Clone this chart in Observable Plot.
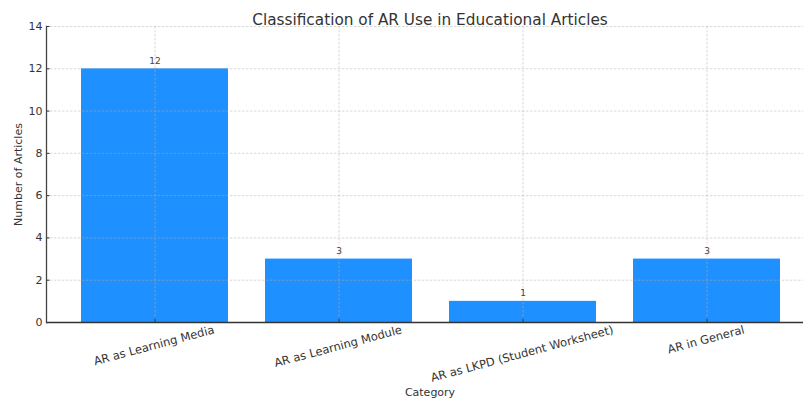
<!DOCTYPE html>
<html><head><meta charset="utf-8">
<script src="https://cdn.jsdelivr.net/npm/d3@7"></script>
<script src="https://cdn.jsdelivr.net/npm/@observablehq/plot@0.6"></script>
<style>body{margin:0;background:#fff} svg{display:block}</style>
</head><body><div id="chart"></div>
<script>
const categories = ["AR as Learning Media", "AR as Learning Module", "AR as LKPD (Student Worksheet)", "AR in General"];
const counts = [12, 3, 1, 3];
const yTicks = [0, 2, 4, 6, 8, 10, 12, 14];
const titleText = "Classification of AR Use in Educational Articles";
const xLabel = "Category";
const yLabel = "Number of Articles";

const data = categories.map((c, i) => ({category: c, count: counts[i]}));
const FONT = "DejaVu Sans";
const W = 803, H = 402;
const mL = 46, mR = 0, mT = 26, mB = 80;
const tickFont = 11.5;

// measure label widths to place rotated labels like matplotlib (top of rotated bbox under tick)
const ctx = document.createElement("canvas").getContext("2d");
ctx.font = `${tickFont}px "${FONT}"`;
const s = Math.sin(15 * Math.PI / 180), c = Math.cos(15 * Math.PI / 180);
const labelDy = categories.map(t => 5 + (ctx.measureText(t).width * s + tickFont * c) / 2);

const gridStyle = {stroke: "#b0b0b0", strokeOpacity: 0.7, strokeWidth: 0.7, strokeDasharray: "2.5,1.5"};

const chart = Plot.plot({
  width: W, height: H,
  marginLeft: mL, marginRight: mR, marginTop: mT, marginBottom: mB,
  style: {fontFamily: FONT, color: "#333", background: "#fff"},
  x: {domain: categories, range: [62.6, 798.6], paddingInner: 0.2, paddingOuter: 0.1, axis: null},
  y: {domain: [0, 14], axis: null},
  marks: [
    Plot.barY(data, {x: "category", y: "count", fill: "#1E90FF"}),
    Plot.ruleY(yTicks, gridStyle),
    Plot.ruleX(categories, {x: d => d, ...gridStyle}),
    Plot.axisY({ticks: yTicks, tickSize: 0, tickPadding: 4, fontSize: 11, label: null}),
    Plot.axisY({ticks: yTicks, tickSize: -3.5, tickFormat: () => "", label: null, stroke: "#333"}),
    Plot.axisX({tickSize: -3.5, tickFormat: () => "", label: null, stroke: "#333"}),
    Plot.ruleY([0], {stroke: "#333", strokeWidth: 1.3}),
    Plot.frame({anchor: "left", stroke: "#444", strokeWidth: 1.3}),
    Plot.text(data, {x: "category", y: "count", text: d => String(d.count), dy: -8, fontSize: 9, fill: "#444"}),
    ...categories.map((cat, i) => Plot.text([cat], {x: d => d, frameAnchor: "bottom", dy: labelDy[i], rotate: -15, fontSize: tickFont, fill: "#333"})),
    Plot.text([titleText], {frameAnchor: "top", dx: 5, dy: -12, fontSize: 15.3, fill: "#333"}),
    Plot.text([xLabel], {frameAnchor: "bottom", dx: 5, dy: 73, fontSize: 11, fill: "#333"}),
    Plot.text([yLabel], {frameAnchor: "left", textAnchor: "middle", dx: -28, rotate: -90, fontSize: 11, fill: "#333"})
  ]
});
document.getElementById("chart").append(chart);
</script>
</body></html>
